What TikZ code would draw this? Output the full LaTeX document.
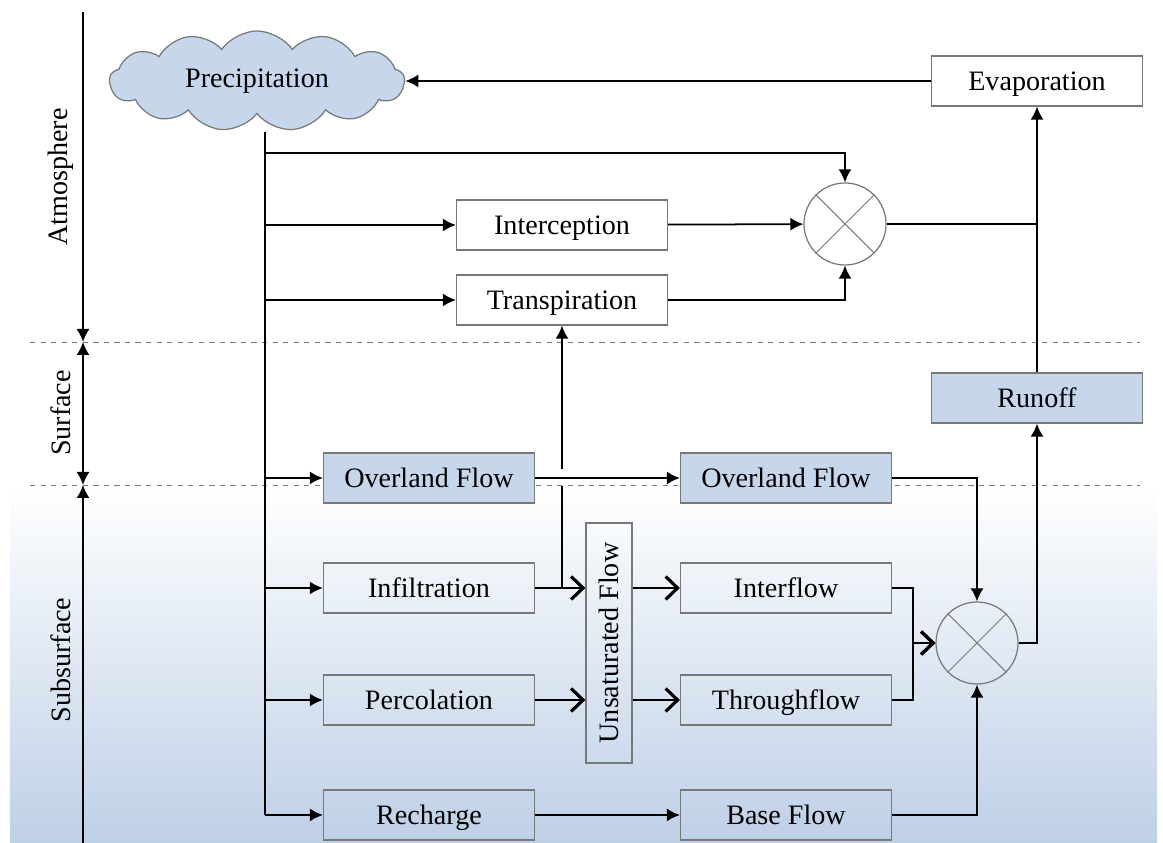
\documentclass[tikz,border=0pt]{standalone}
\usepackage{fontspec}
\setmainfont{Liberation Serif}
\usetikzlibrary{arrows.meta,shapes.symbols}
\definecolor{boxblue}{RGB}{198,215,235}
\definecolor{bgblue}{RGB}{190,208,231}
\definecolor{edgegray}{RGB}{120,120,120}
\begin{document}
\begin{tikzpicture}
	[box/.style={rectangle,draw=edgegray,line width=0.7pt,minimum width=4.22cm,minimum height=1cm,inner sep=0pt,text height=12.6pt,text depth=2pt,font=\fontsize{16}{19}\selectfont},
	bluebox/.style={box,fill=boxblue},
	mixer/.style={circle,draw=edgegray,line width=0.7pt,minimum size=1.64cm,inner sep=0pt},
	layer/.style={rotate=90,font=\fontsize{16}{19}\selectfont},
	flow/.style={line width=1pt},
	chev/.style={flow,-{Straight Barb[length=2.4mm,width=4.6mm,line width=1.8pt]}},
	>={Latex[length=2.6mm,width=2.6mm]}]
	\useasboundingbox (0,0) rectangle (23.26,16.86);
	% subsurface background and layer borders
	\shade[top color=white,bottom color=bgblue] (0.2,0) rectangle (23.14,7.16);
	\draw[edgegray,dashed,line width=0.5pt] (0.6,10.02) -- (22.8,10.02);
	\draw[edgegray,dashed,line width=0.5pt] (0.6,7.16) -- (22.8,7.16);
	% layer axis
	\coordinate (axtop) at (1.66,16.62);
	\coordinate (axsurf) at (1.66,10.02);
	\coordinate (axsub) at (1.66,7.16);
	\coordinate (axbot) at (1.66,0);
	\draw[flow,->] (axtop) -- (axsurf);
	\draw[flow,<->] (axsurf) -- (axsub);
	\draw[flow,<-] (axsub) -- (axbot);
	\node[layer,name=atm] at (1.22,13.32) {Atmosphere};
	\node[layer,name=surf] at (1.22,8.60) {Surface};
	\node[layer,name=subs] at (1.22,3.66) {Subsurface};
	% processes
	\node[cloud,cloud puffs=13,cloud puff arc=110,cloud ignores aspect,draw=edgegray,line width=0.7pt,fill=boxblue,
		minimum width=5.9cm,minimum height=2cm,font=\fontsize{16}{19}\selectfont,name=prec] at (5.14,15.24) {Precipitation};
	\node[box,name=evap] at (20.74,15.24) {Evaporation};
	\node[box,name=intercep] at (11.24,12.36) {Interception};
	\node[box,name=transp] at (11.24,10.86) {Transpiration};
	\node[mixer,name=mix1] at (16.90,12.38) {};
	\node[bluebox,name=runoff] at (20.74,8.90) {Runoff};
	\node[bluebox,name=over1] at (8.58,7.30) {Overland Flow};
	\node[bluebox,name=over2] at (15.72,7.30) {Overland Flow};
	\node[box,name=infil] at (8.58,5.10) {Infiltration};
	\node[box,name=perc] at (8.58,2.86) {Percolation};
	\node[box,name=rech] at (8.58,0.56) {Recharge};
	\node[box,minimum width=0.92cm,minimum height=4.8cm,text height=,text depth=,name=unsat] at (12.18,4.00) {\rotatebox{90}{Unsaturated Flow}};
	\node[box,name=interf] at (15.72,5.10) {Interflow};
	\node[box,name=throughf] at (15.72,2.86) {Throughflow};
	\node[box,name=basef] at (15.72,0.56) {Base Flow};
	\node[mixer,name=mix2] at (19.54,4.00) {};
	\draw[edgegray,line width=0.6pt] (mix1.45) -- (mix1.225) (mix1.135) -- (mix1.-45);
	\draw[edgegray,line width=0.6pt] (mix2.45) -- (mix2.225) (mix2.135) -- (mix2.-45);
	% precipitation trunk
	\coordinate (trunktop) at (5.30,14.22);
	\coordinate (trunkbot) at (5.30,0.56);
	\coordinate (split) at (5.30,13.80);
	\draw[flow] (trunktop) -- (trunkbot);
	\draw[flow,->] (split) -| (mix1);
	\draw[flow,->] (trunktop |- intercep) -- (intercep);
	\draw[flow,->] (trunktop |- transp) -- (transp);
	\draw[flow,->] (trunktop |- over1) -- (over1);
	\draw[flow,->] (trunktop |- infil) -- (infil);
	\draw[flow,->] (trunktop |- perc) -- (perc);
	\draw[flow,->] (trunkbot) -- (rech);
	% atmosphere
	\draw[flow,->] (intercep) -- (mix1);
	\draw[flow,->] (transp) -| (mix1);
	\coordinate (join1) at (evap |- mix1);
	\draw[flow] (mix1) -- (join1);
	\draw[flow,->] (runoff) -- (evap);
	\draw[flow,->] (evap) -- (prec);
	% surface
	\draw[flow,->] (over1) -- (over2);
	\draw[flow,->] (over2) -| (mix2);
	\draw[flow,->] (mix2) -| (runoff);
	% subsurface
	\coordinate (gaplow) at (11.24,7.13);
	\coordinate (gaphigh) at (11.24,7.47);
	\draw[flow] (infil -| transp) -- (gaplow);
	\draw[flow,->] (gaphigh) -- (transp);
	\draw[chev] (infil) -- (infil -| unsat.west);
	\draw[chev] (perc) -- (perc -| unsat.west);
	\draw[chev] (unsat.east |- interf) -- (interf);
	\draw[chev] (unsat.east |- throughf) -- (throughf);
	\coordinate (join2) at (18.26,4.00);
	\draw[chev] (interf) -| (join2) -- (mix2);
	\draw[chev] (throughf) -| (join2) -- (mix2);
	\draw[flow,->] (rech) -- (basef);
	\draw[flow,->] (basef) -| (mix2);
\end{tikzpicture}
\end{document}
